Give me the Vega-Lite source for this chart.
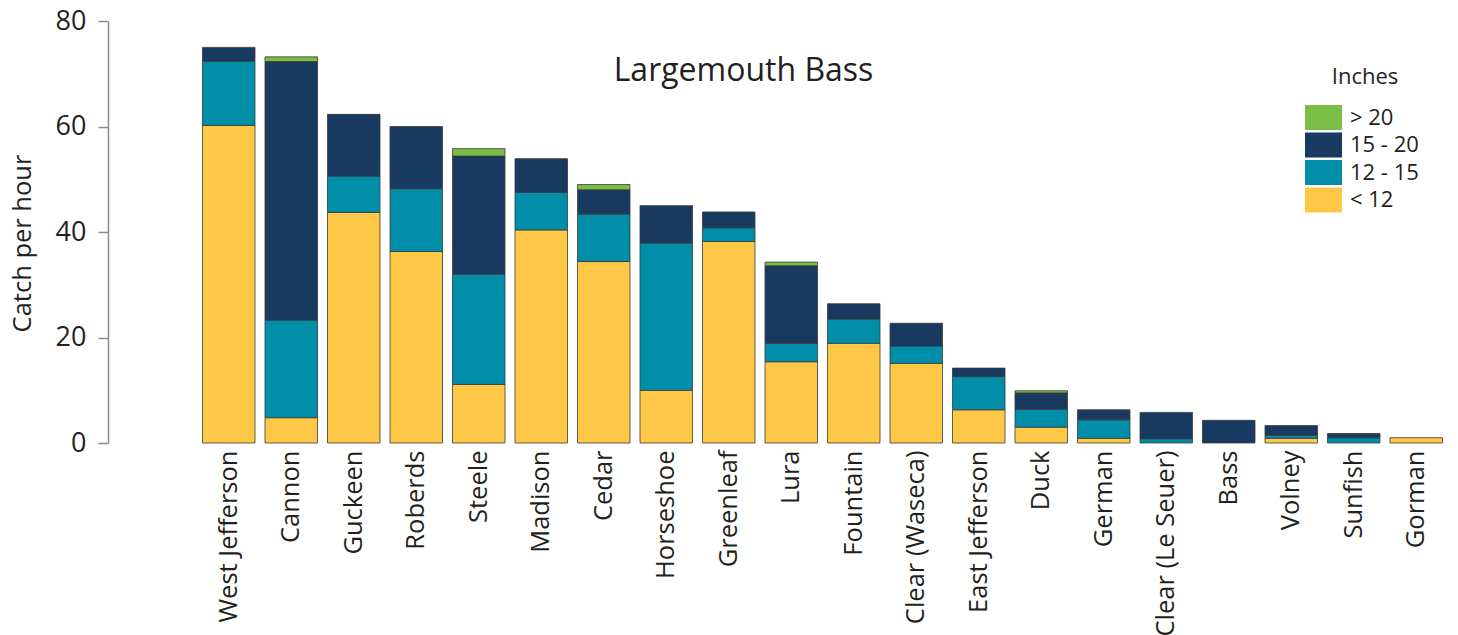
{
  "$schema": "https://vega.github.io/schema/vega-lite/v6.json",
  "autosize": {"type": "none"},
  "padding": {"left": 190, "top": 21, "right": 3, "bottom": 192},
  "width": 1265,
  "height": 422,
  "background": "white",
  "config": {
    "view": {"stroke": null},
    "font": "Open Sans",
    "axis": {"labelFont": "Open Sans", "titleFont": "Open Sans", "labelColor": "#231F20", "titleColor": "#231F20"},
    "legend": {"labelFont": "Open Sans", "titleFont": "Open Sans"}
  },
  "title": {
    "text": "Largemouth Bass",
    "font": "Open Sans",
    "fontSize": 32,
    "fontWeight": "normal",
    "color": "#231F20",
    "anchor": "middle",
    "baseline": "alphabetic",
    "offset": 0,
    "dx": -79,
    "dy": 106
  },
  "data": {
    "values": [
      {"lake": "West Jefferson", "size": "< 12", "k": 1, "catch": 60.2},
      {"lake": "West Jefferson", "size": "12 - 15", "k": 2, "catch": 12.2},
      {"lake": "West Jefferson", "size": "15 - 20", "k": 3, "catch": 2.6},
      {"lake": "Cannon", "size": "< 12", "k": 1, "catch": 4.8},
      {"lake": "Cannon", "size": "12 - 15", "k": 2, "catch": 18.5},
      {"lake": "Cannon", "size": "15 - 20", "k": 3, "catch": 49.0},
      {"lake": "Cannon", "size": "> 20", "k": 4, "catch": 0.9},
      {"lake": "Guckeen", "size": "< 12", "k": 1, "catch": 43.7},
      {"lake": "Guckeen", "size": "12 - 15", "k": 2, "catch": 6.9},
      {"lake": "Guckeen", "size": "15 - 20", "k": 3, "catch": 11.7},
      {"lake": "Roberds", "size": "< 12", "k": 1, "catch": 36.3},
      {"lake": "Roberds", "size": "12 - 15", "k": 2, "catch": 11.9},
      {"lake": "Roberds", "size": "15 - 20", "k": 3, "catch": 11.8},
      {"lake": "Steele", "size": "< 12", "k": 1, "catch": 11.1},
      {"lake": "Steele", "size": "12 - 15", "k": 2, "catch": 20.9},
      {"lake": "Steele", "size": "15 - 20", "k": 3, "catch": 22.4},
      {"lake": "Steele", "size": "> 20", "k": 4, "catch": 1.4},
      {"lake": "Madison", "size": "< 12", "k": 1, "catch": 40.4},
      {"lake": "Madison", "size": "12 - 15", "k": 2, "catch": 7.1},
      {"lake": "Madison", "size": "15 - 20", "k": 3, "catch": 6.4},
      {"lake": "Cedar", "size": "< 12", "k": 1, "catch": 34.4},
      {"lake": "Cedar", "size": "12 - 15", "k": 2, "catch": 9.0},
      {"lake": "Cedar", "size": "15 - 20", "k": 3, "catch": 4.6},
      {"lake": "Cedar", "size": "> 20", "k": 4, "catch": 1.0},
      {"lake": "Horseshoe", "size": "< 12", "k": 1, "catch": 10.0},
      {"lake": "Horseshoe", "size": "12 - 15", "k": 2, "catch": 27.9},
      {"lake": "Horseshoe", "size": "15 - 20", "k": 3, "catch": 7.1},
      {"lake": "Greenleaf", "size": "< 12", "k": 1, "catch": 38.2},
      {"lake": "Greenleaf", "size": "12 - 15", "k": 2, "catch": 2.6},
      {"lake": "Greenleaf", "size": "15 - 20", "k": 3, "catch": 3.0},
      {"lake": "Lura", "size": "< 12", "k": 1, "catch": 15.4},
      {"lake": "Lura", "size": "12 - 15", "k": 2, "catch": 3.5},
      {"lake": "Lura", "size": "15 - 20", "k": 3, "catch": 14.7},
      {"lake": "Lura", "size": "> 20", "k": 4, "catch": 0.7},
      {"lake": "Fountain", "size": "< 12", "k": 1, "catch": 18.9},
      {"lake": "Fountain", "size": "12 - 15", "k": 2, "catch": 4.6},
      {"lake": "Fountain", "size": "15 - 20", "k": 3, "catch": 2.9},
      {"lake": "Clear (Waseca)", "size": "< 12", "k": 1, "catch": 15.1},
      {"lake": "Clear (Waseca)", "size": "12 - 15", "k": 2, "catch": 3.3},
      {"lake": "Clear (Waseca)", "size": "15 - 20", "k": 3, "catch": 4.3},
      {"lake": "East Jefferson", "size": "< 12", "k": 1, "catch": 6.3},
      {"lake": "East Jefferson", "size": "12 - 15", "k": 2, "catch": 6.3},
      {"lake": "East Jefferson", "size": "15 - 20", "k": 3, "catch": 1.6},
      {"lake": "Duck", "size": "< 12", "k": 1, "catch": 3.0},
      {"lake": "Duck", "size": "12 - 15", "k": 2, "catch": 3.4},
      {"lake": "Duck", "size": "15 - 20", "k": 3, "catch": 3.1},
      {"lake": "Duck", "size": "> 20", "k": 4, "catch": 0.4},
      {"lake": "German", "size": "< 12", "k": 1, "catch": 0.9},
      {"lake": "German", "size": "12 - 15", "k": 2, "catch": 3.5},
      {"lake": "German", "size": "15 - 20", "k": 3, "catch": 1.9},
      {"lake": "Clear (Le Seuer)", "size": "12 - 15", "k": 2, "catch": 0.8},
      {"lake": "Clear (Le Seuer)", "size": "15 - 20", "k": 3, "catch": 5.0},
      {"lake": "Bass", "size": "15 - 20", "k": 3, "catch": 4.3},
      {"lake": "Volney", "size": "< 12", "k": 1, "catch": 0.9},
      {"lake": "Volney", "size": "12 - 15", "k": 2, "catch": 0.6},
      {"lake": "Volney", "size": "15 - 20", "k": 3, "catch": 1.8},
      {"lake": "Sunfish", "size": "12 - 15", "k": 2, "catch": 1.0},
      {"lake": "Sunfish", "size": "15 - 20", "k": 3, "catch": 0.8},
      {"lake": "Gorman", "size": "< 12", "k": 1, "catch": 1.0}
    ]
  },
  "mark": {"type": "bar", "stroke": "#3a3a3a", "strokeWidth": 1, "strokeOpacity": 0.8},
  "encoding": {
    "x": {
      "field": "lake",
      "type": "nominal",
      "sort": null,
      "scale": {"paddingInner": 0.16, "paddingOuter": 0.2},
      "axis": {
        "title": null,
        "domain": false,
        "ticks": false,
        "labelAngle": -90,
        "labelFontSize": 25.5,
        "labelPadding": 7,
        "labelLimit": 400,
        "labelColor": "#231F20"
      }
    },
    "y": {
      "field": "catch",
      "type": "quantitative",
      "stack": "zero",
      "scale": {"domain": [0, 80], "nice": false},
      "axis": {
        "title": "Catch per hour",
        "titleFontSize": 25.5,
        "titleFontWeight": "normal",
        "titlePadding": 20,
        "titleY": 222,
        "values": [0, 20, 40, 60, 80],
        "grid": false,
        "offset": 82,
        "tickSize": 10,
        "tickColor": "#8c8c8c",
        "tickWidth": 1.5,
        "domainColor": "#8c8c8c",
        "domainWidth": 1.5,
        "labelFontSize": 27,
        "labelPadding": 12
      }
    },
    "color": {
      "field": "size",
      "type": "nominal",
      "scale": {
        "domain": ["> 20", "15 - 20", "12 - 15", "< 12"],
        "range": ["#7ABE46", "#183960", "#008EA8", "#FEC846"]
      },
      "legend": {
        "title": "Inches",
        "orient": "none",
        "legendX": 1121,
        "legendY": 46,
        "titleFontSize": 22,
        "titleFontWeight": "normal",
        "titleColor": "#231F20",
        "titleAnchor": "middle",
        "titlePadding": 16,
        "labelFontSize": 22,
        "labelColor": "#231F20",
        "labelOffset": 14,
        "symbolType": "M-1.48,-1L1.48,-1L1.48,1L-1.48,1Z",
        "symbolSize": 625,
        "symbolStrokeWidth": 0,
        "symbolOpacity": 1,
        "rowPadding": 2.5
      }
    },
    "order": {"field": "k", "type": "quantitative", "sort": "ascending"}
  }
}
